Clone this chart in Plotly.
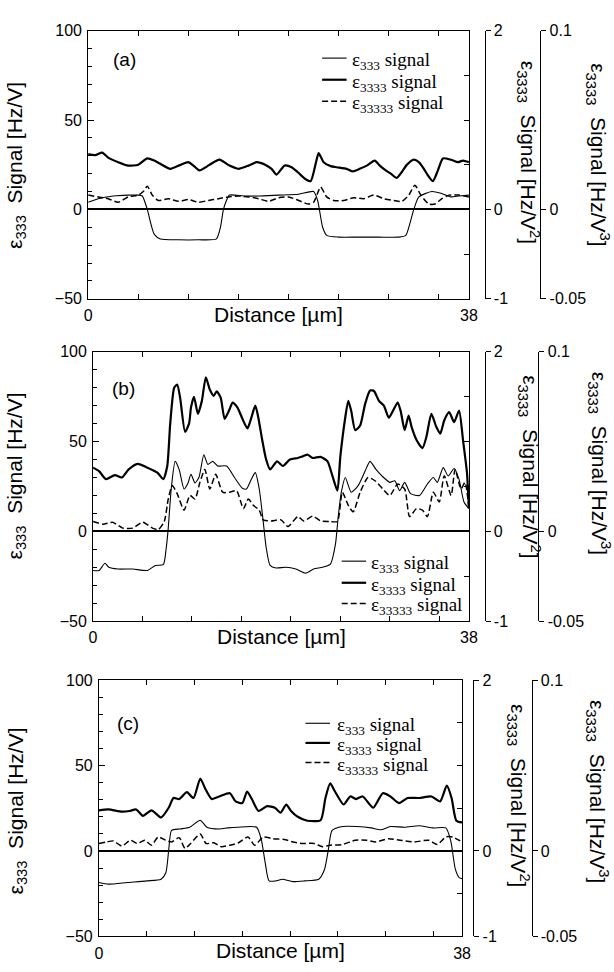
import plotly.graph_objects as go

# tick values / labels
distance_tickvals = [0, 38]
distance_minor = [5, 10, 15, 20, 25, 30, 35]
left_tickvals = [-50, 0, 50, 100]
left_minor = [-40, -30, -20, -10, 10, 20, 30, 40, 60, 70, 80, 90]
v2_tickvals = [-1, 0, 2]
v2_ticktext = ["-1", "0", "2"]
v3_tickvals = [-0.05, 0, 0.1]
v3_ticktext = ["-0.05", "0", "0.1"]

series_names = ["ε<sub>333</sub> signal", "ε<sub>3333</sub> signal", "ε<sub>33333</sub> signal"]
panel_labels = ["(a)", "(b)", "(c)"]

# ---- panel (a)
a_x333 = [0, 1.0, 2.5, 4.0, 5.0, 5.4, 5.9, 6.3, 6.6, 7.2, 9.0, 11.0, 12.8, 13.2, 13.5, 13.8, 14.1, 15.5, 17.0, 19.0,
          21.0, 22.5, 22.9, 23.4, 23.8, 25.0, 27.0, 29.0, 31.0, 31.7, 32.1, 32.5, 33.0, 34.3, 35.2, 36.2, 37.0, 38.0]
a_y333 = [4, 6, 7.5, 8, 8, 7.5, 0, -9, -14, -16.5, -17, -17, -16.5, -10, 0, 5, 8, 7.5, 7.5, 8,
          8.5, 10, 5, -10, -14.5, -15.5, -15.5, -15.5, -15.5, -14.5, -8, 0, 7, 10, 9, 7, 7.5, 8]
a_x3333 = [0.0, 0.7, 1.4, 2.0, 3.0, 4.0, 5.0, 5.9, 6.6, 7.2, 8.2, 9.2, 10.0, 10.5, 11.1, 12.1, 13.1, 14.1, 15.0, 16.0,
           16.8, 17.7, 18.3, 18.8, 19.6, 20.3, 20.9, 21.6, 22.2, 22.7, 23.0, 23.5, 24.2, 24.8, 25.8, 26.4, 27.1, 27.8,
           28.6, 29.1, 29.7, 30.2, 30.8, 31.3, 31.8, 32.5, 33.0, 33.5, 33.9, 34.4, 34.9, 35.4, 36.2, 36.9, 37.4, 38.0]
a_y3333 = [30.9, 30.4, 31.8, 29.0, 26.4, 24.5, 25.0, 28.5, 27.3, 25.5, 22.7, 24.9, 26.4, 24.5, 21.8, 24.9, 27.8, 24.5,
           22.7, 24.5, 26.4, 24.9, 22.7, 19.5, 24.5, 23.6, 20.9, 17.3, 15.8, 25.5, 31.5, 26.4, 24.2, 23.6, 22.7, 21.3,
           22.7, 24.5, 27.3, 24.5, 21.8, 20.0, 17.6, 20.9, 24.9, 27.8, 26.4, 22.7, 19.1, 15.8, 21.8, 28.5, 27.8, 26.4,
           27.3, 26.4]
a_x33333 = [0, 1.0, 2.0, 3.0, 4.0, 5.0, 5.5, 5.9, 6.4, 7.0, 8.0, 9.0, 10.0, 11.0, 12.0, 13.0, 14.0, 15.0, 16.0, 17.0,
            18.0, 19.0, 20.0, 21.0, 22.0, 22.5, 23.2, 23.8, 24.5, 25.5, 26.5, 27.5, 28.5, 29.5, 30.5, 31.3, 32.0, 32.6,
            33.2, 34.0, 34.6, 35.3, 36.0, 37.0, 38.0]
a_y33333 = [8, 7, 6, 4, 7, 8, 10, 13, 8, 5, 6, 4.5, 5.5, 4, 5, 6, 7, 7.5, 7, 6,
            4.5, 6.5, 7, 5, 3, 4, 12.5, 7, 5, 5, 6.5, 6, 8, 6, 5, 4.5, 8, 13.5,
            8, 3, 3, 6, 8, 8, 7]

# ---- panel (b)
b_x333 = [0, 0.6, 1.2, 1.6, 2.5, 4.0, 5.5, 6.3, 7.1, 7.4, 7.6, 7.9, 8.3, 8.7, 9.2, 9.6, 9.9, 10.3, 10.7, 11.2,
          11.6, 12.1, 12.6, 13.5, 14.3, 15.1, 15.5, 16.0, 16.4, 16.8, 17.2, 17.5, 17.9, 18.5, 19.5, 20.5, 21.5, 22.3,
          23.2, 24.0, 24.5, 24.8, 25.1, 25.5, 26.1, 26.8, 27.5, 28.0, 28.6, 29.2, 30.0, 30.5, 31.0, 31.5, 32.1, 33.0,
          33.8, 34.4, 34.8, 35.4, 35.9, 36.5, 37.0, 37.5, 38.0]
b_y333 = [-21.8, -21.8, -17.8, -20, -21, -21, -21.8, -19, -18.5, -9, 1.8, 23.6, 39, 34.5, 23.6, 27, 31.8, 27, 30, 42.7,
          37.3, 39, 36.4, 36.4, 30, 24, 23.6, 29, 32.7, 23.6, 5.5, -9, -19, -20.4, -20, -21, -23.3, -21,
          -20, -18.2, -7.3, 9, 21.8, 30, 21.8, 25.5, 33.6, 39, 34.5, 30.9, 27.3, 28.2, 22.7, 27.3, 21, 20,
          26.4, 30, 27.3, 35.5, 30.9, 35, 29, 16.4, 12.7]
b_x3333 = [0, 0.6, 1.3, 2.2, 2.9, 3.6, 4.5, 5.5, 6.5, 7.1, 7.5, 7.8, 8.2, 8.5, 8.8, 9.3, 9.7, 9.9, 10.2, 10.6,
           11.0, 11.4, 11.8, 12.2, 12.5, 12.9, 13.3, 13.8, 14.1, 14.6, 15.1, 15.6, 16.0, 16.4, 16.7, 17.1, 17.5, 17.9,
           18.6, 19.2, 19.9, 20.7, 21.2, 21.7, 22.2, 23.0, 23.7, 24.2, 24.7, 25.0, 25.5, 25.8, 26.1, 26.5, 27.0, 27.5,
           28.0, 28.4, 28.9, 29.4, 29.9, 30.4, 30.8, 31.1, 31.5, 31.9, 32.2, 32.7, 33.3, 33.7, 34.2, 34.7, 35.1, 35.5,
           36.0, 36.5, 37.0, 37.4, 37.8, 38.0]
b_y3333 = [35.5, 33.6, 29.1, 31.3, 30, 34.5, 37.6, 35.5, 32.7, 29.1, 36.4, 60, 80, 81.8, 74.5, 55.5, 60, 69, 75, 65.5,
           72.7, 85.8, 79, 75.5, 78, 74.5, 62.7, 68, 71.8, 69, 62.7, 57.3, 63.3, 70, 63.6, 50.9, 40, 34.5,
           39, 36.4, 40, 40.9, 41.8, 42.7, 40.9, 41.5, 39, 30.9, 22.7, 41.8, 63.6, 72.7, 67, 56.4, 59, 70.9,
           78.5, 78.2, 72.7, 70, 63.3, 68, 71.8, 67, 56.4, 64.5, 58.2, 50.9, 46.4, 52.7, 65.5, 58.2, 54.5, 61.8,
           66.4, 60.9, 67.3, 50.9, 32.7, 12.7]
b_x33333 = [0, 1, 2, 3, 4, 5, 6, 6.6, 7.2, 7.6, 8.0, 8.5, 9.2, 9.8, 10.3, 10.8, 11.3, 11.8, 12.4, 13.1,
            13.8, 14.5, 15.2, 15.7, 16.2, 16.8, 17.2, 18.0, 19.0, 19.7, 20.7, 21.3, 22.2, 23.0, 24.0, 24.7, 25.2, 25.8,
            26.3, 27.0, 27.8, 28.5, 29.3, 30.0, 30.8, 31.5, 32.0, 32.7, 33.3, 33.8, 34.4, 35.0, 35.5, 36.2, 36.6, 37.2,
            37.6, 38.0]
b_y33333 = [5.5, 4, 5, 1.8, 1.8, 5.1, 1.8, 1, 5.5, 18, 25.5, 21, 11.8, 20, 18, 27.3, 34.5, 23.6, 31.8, 21.8,
            21.8, 22.7, 12.7, 18, 14.5, 11.8, 6.4, 5.8, 6.4, 2.7, 8.2, 5.8, 8.5, 5.8, 5.5, 5.5, 21.8, 14.5,
            10.9, 21.8, 30, 28.2, 23.6, 20, 26.4, 23.6, 8.2, 12.7, 11.8, 8.2, 21.8, 16.4, 31, 20, 34.5, 23.6,
            27.3, 12.7]

# ---- panel (c)
c_x333 = [0, 1.0, 3.0, 5.0, 6.5, 7.0, 7.3, 7.6, 8.5, 9.5, 10.6, 11.3, 12.6, 13.5, 14.5, 16.5, 17.0, 17.4, 17.8, 18.5,
          19.2, 20.3, 21.5, 23.0, 23.6, 24.0, 24.4, 25.5, 27.0, 28.5, 29.5, 30.5, 32.0, 33.5, 35.0, 36.3, 36.8, 37.3,
          37.7, 38.0]
c_y333 = [-18.4, -19.4, -18.4, -17.5, -16.5, -12.7, 0.6, 12, 12.9, 13.9, 18, 13.9, 12.9, 13.5, 13.9, 13.9, 6.3, -7,
          -17.5, -17.5, -16.5, -17.9, -17.5, -16.5, -10.8, 0.6, 12, 14.3, 14.3, 13.5, 12.4, 14.3, 13.9, 14.8, 13.5,
          13.5, 6.3, -10.8, -15.6, -16.2]
c_x3333 = [0, 1.0, 2.4, 3.2, 3.9, 4.6, 5.5, 6.5, 7.3, 7.8, 8.4, 9.2, 9.9, 10.6, 11.1, 11.8, 12.6, 13.7, 14.3, 15.0,
           15.5, 16.0, 16.7, 17.6, 18.4, 19.0, 19.6, 20.1, 20.8, 21.8, 23.2, 23.7, 24.2, 24.7, 25.6, 26.3, 26.9, 27.6,
           28.7, 29.7, 30.5, 31.4, 32.3, 33.5, 34.8, 35.7, 36.4, 36.9, 37.4, 38.0]
c_y3333 = [23.8, 24.3, 23, 23.4, 24.3, 20.5, 23.8, 19.6, 25.3, 31, 30.4, 34.4, 31, 42.4, 36.7, 30.4, 31.9, 33.8, 29, 28,
           34.8, 30.4, 23.4, 26.2, 25.3, 22.4, 27.2, 23.4, 20, 17.7, 18, 31, 39.5, 34.8, 27.2, 31.9, 30.4, 31.9,
           25.3, 33.8, 31.9, 28, 31, 31, 31.9, 29, 38.2, 31, 17.7, 16.7]
c_x33333 = [0, 0.8, 1.5, 2.4, 3.3, 4.0, 4.8, 5.5, 6.2, 7.0, 7.6, 8.4, 9.0, 9.6, 10.6, 11.2, 12.0, 12.8, 13.7, 14.6,
            15.6, 16.3, 17.2, 18.2, 19.4, 20.3, 21.3, 22.5, 23.4, 24.2, 25.5, 26.8, 28.0, 29.0, 30.3, 31.5, 33.0, 34.5,
            35.4, 36.3, 37.0, 38.0]
c_y33333 = [4.4, 5.3, 5.9, 2.9, 6.3, 4.4, 6.3, 3.4, 8.2, 6.3, 5.3, 7.8, 1.5, 4.4, 10, 4.4, 4.8, 2.5, 3.4, 4.8,
            8.2, 3.4, 8.2, 7.2, 6.7, 5.3, 4.4, 4.4, 2.5, 3.4, 3.8, 6.3, 6.3, 5.3, 7.2, 6.3, 5.3, 6.3,
            3.8, 8.2, 8.2, 5.3]

panel_data = [
    [(a_x333, a_y333), (a_x3333, a_y3333), (a_x33333, a_y33333)],
    [(b_x333, b_y333), (b_x3333, b_y3333), (b_x33333, b_y33333)],
    [(c_x333, c_y333), (c_x3333, c_y3333), (c_x33333, c_y33333)],
]

W, H = 614, 972
def px(v): return v / W
def py(v): return 1 - v / H

# pixel layout of each panel: plot box, the two extra axes, titles, legend rows, label
boxes = [
    dict(l=86, r=475, t=23, b=296, ax2=491, ax3=548, lt=(12, 160), rt1=(536, 147), rt2=(607, 149), dist=312,
         leg_x=(325, 350, 353), leg_y=(51, 73, 95), lab=(123, 52)),
    dict(l=91, r=475, t=350, b=624, ax2=491, ax3=546, lt=(12, 476), rt1=(537, 467), rt2=(608, 463), dist=640,
         leg_x=(345, 370, 373), leg_y=(563, 585, 606), lab=(122, 387)),
    dict(l=97, r=468, t=684, b=945, ax2=479.5, ax3=539, lt=(13, 817), rt1=(525, 802), rt2=(607, 797), dist=959,
         leg_x=(308, 333, 338), leg_y=(728, 748, 768), lab=(127, 728)),
]

line_styles = [dict(width=1.1), dict(width=2.2), dict(width=1.5, dash="6px,3px")]
tick_font = dict(family="Liberation Sans, Arial", size=16, color="black")
title_font = dict(family="Liberation Sans, Arial", size=21, color="black")
legend_font = dict(family="Liberation Serif, Times New Roman", size=19, color="black")

fig = go.Figure()
layout = {}
annotations = []
shapes = []

for i, box in enumerate(boxes):
    n = i + 1
    xname = "x" if n == 1 else f"x{n}"
    ybase = 4 * i + 1
    yname = "y" if ybase == 1 else f"y{ybase}"

    for (xs, ys), name, ls in zip(panel_data[i], series_names, line_styles):
        fig.add_trace(go.Scatter(
            x=xs, y=ys, mode="lines", name=name, showlegend=False,
            line=dict(color="black", shape="spline", smoothing=0.6, **ls),
            xaxis=xname, yaxis=yname,
        ))
    # empty traces so the extra y axes get drawn
    for k in (1, 2, 3):
        fig.add_trace(go.Scatter(x=[None], y=[None], mode="lines", showlegend=False, hoverinfo="skip",
                                 xaxis=xname, yaxis=f"y{ybase + k}"))

    xdom = [px(box["l"]), px(box["r"])]
    ydom = [py(box["b"]), py(box["t"])]
    layout["xaxis" if n == 1 else f"xaxis{n}"] = dict(
        domain=xdom, anchor=yname, range=[0, 38], tickvals=distance_tickvals,
        ticks="inside", ticklen=5, tickcolor="black", mirror="ticks",
        minor=dict(tickvals=distance_minor, ticks="inside", ticklen=5, tickcolor="black"),
        showline=True, linecolor="black", linewidth=1, showgrid=False, zeroline=False,
        tickfont=tick_font, ticklabelstandoff=2,
    )
    layout["yaxis" if ybase == 1 else f"yaxis{ybase}"] = dict(
        domain=ydom, anchor=xname, range=[-50, 100], tickvals=left_tickvals,
        ticks="inside", ticklen=6, tickcolor="black", mirror=True,
        minor=dict(tickvals=left_minor, ticks="inside", ticklen=4, tickcolor="black"),
        showline=True, linecolor="black", linewidth=1, showgrid=False,
        zeroline=True, zerolinecolor="black", zerolinewidth=1.5,
        tickfont=tick_font, ticklabelstandoff=2,
    )
    # inner ticks on the right edge (Hz/V^2 scale)
    layout[f"yaxis{ybase + 1}"] = dict(
        overlaying=yname, anchor=xname, side="right", range=[-1, 2], dtick=0.5, tick0=-1,
        ticks="inside", ticklen=5, tickcolor="black", showticklabels=False,
        showline=False, showgrid=False, zeroline=False,
    )
    # detached right axes
    layout[f"yaxis{ybase + 2}"] = dict(
        overlaying=yname, anchor="free", position=px(box["ax2"]), side="right", range=[-1, 2],
        tickvals=v2_tickvals, ticktext=v2_ticktext, ticks="outside", ticklen=5, tickcolor="black",
        showline=True, linecolor="black", linewidth=1, showgrid=False, zeroline=False, tickfont=tick_font,
    )
    layout[f"yaxis{ybase + 3}"] = dict(
        overlaying=yname, anchor="free", position=px(box["ax3"]), side="right", range=[-0.05, 0.1],
        tickvals=v3_tickvals, ticktext=v3_ticktext, ticks="outside", ticklen=5, tickcolor="black",
        showline=True, linecolor="black", linewidth=1, showgrid=False, zeroline=False, tickfont=tick_font,
    )

    # hand-drawn legend: sample line + text per row
    x0, x1, xt = box["leg_x"]
    for name, ls, yrow in zip(series_names, line_styles, box["leg_y"]):
        shapes.append(dict(type="line", xref="paper", yref="paper", x0=px(x0), x1=px(x1), y0=py(yrow), y1=py(yrow),
                           line=dict(color="black", **ls)))
        annotations.append(dict(text=name, x=px(xt), y=py(yrow + 3), xanchor="left", yanchor="middle",
                                font=legend_font))

    annotations += [
        dict(text="ε<sub>333</sub>  Signal [Hz/V]", x=px(box["lt"][0]), y=py(box["lt"][1]), textangle=-90,
             font=title_font),
        dict(text="ε<sub>3333</sub>  Signal [Hz/V<sup>2</sup>]", x=px(box["rt1"][0]), y=py(box["rt1"][1]),
             textangle=90, font=title_font),
        dict(text="ε<sub>3333</sub>  Signal [Hz/V<sup>3</sup>]", x=px(box["rt2"][0]), y=py(box["rt2"][1]),
             textangle=90, font=title_font),
        dict(text="Distance [µm]", x=px((box["l"] + box["r"]) / 2), y=py(box["dist"]), font=title_font),
        dict(text=panel_labels[i], x=px(box["lab"][0]), y=py(box["lab"][1]),
             font=dict(family="Liberation Sans, Arial", size=19, color="black")),
    ]

for a in annotations:
    a.setdefault("xanchor", "center")
    a.setdefault("yanchor", "middle")
    a.update(xref="paper", yref="paper", showarrow=False)

fig.update_layout(
    width=W, height=H, margin=dict(l=0, r=0, t=0, b=0),
    paper_bgcolor="white", plot_bgcolor="white",
    showlegend=False, annotations=annotations, shapes=shapes, **layout,
)

fig.write_html("out.html", config={"displayModeBar": False},
               post_script="document.body.style.margin='0px';")
